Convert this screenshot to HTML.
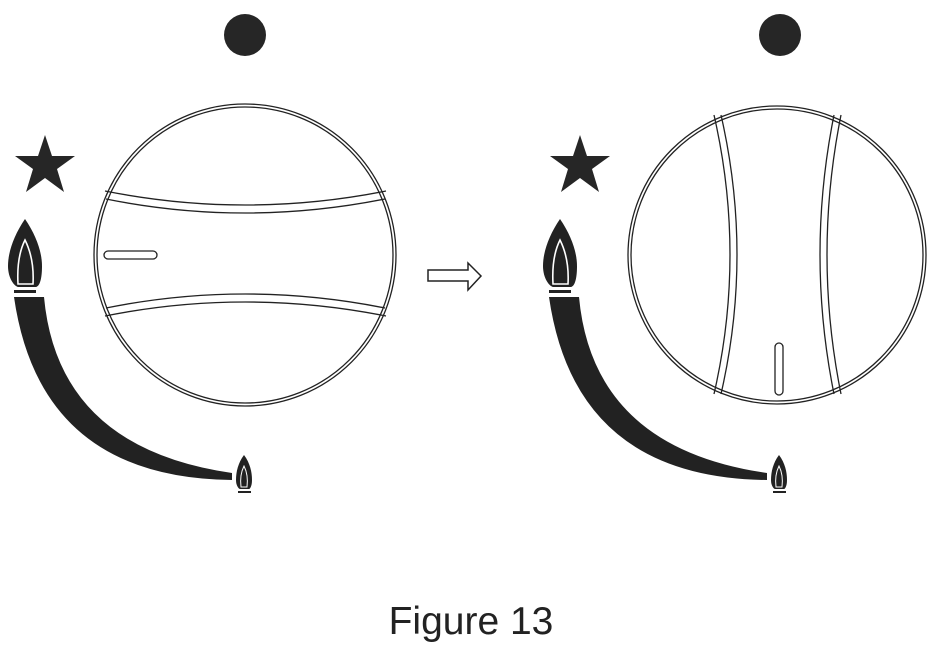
<!DOCTYPE html>
<html><head><meta charset="utf-8"><style>
html,body{margin:0;padding:0;background:#fff;}
svg{display:block;}
</style></head><body>
<svg width="938" height="645" viewBox="0 0 938 645" xmlns="http://www.w3.org/2000/svg">
<defs>
<g id="icons">
  <circle cx="245" cy="35" r="21" fill="#262626"/>
  <polygon fill="#262626" points="45,135 52,156 75,156 57,169 64,192 45,178 26,192 33,169 15,156 38,156"/>
  <path d="M25,219 C14,235 8,252 8,266 C8,278 14,286 18,287 L36,287 C40,286 42,278 42,266 C42,252 36,235 25,219 Z" fill="#222"/>
  <path d="M25,240 C19,252 17,266 18,284 L33,284 C34,266 31,252 25,240 Z" fill="none" stroke="#fff" stroke-width="1.6"/>
  <rect x="14" y="290" width="22" height="3" fill="#222"/>
  <path d="M14,297 L44,297 Q58,448 232,473 L232,480 Q40,478 14,297 Z" fill="#222"/>
  <path d="M244,455 C238,463 236,472 236,480 C236,486 239,489 240,489 L249,489 C250,489 252,486 252,480 C252,472 250,463 244,455 Z" fill="#222"/>
  <path d="M244,466 C241,472 240,479 241,487 L247,487 C248,479 247,472 244,466 Z" fill="none" stroke="#fff" stroke-width="1"/>
  <rect x="238" y="491" width="13" height="2" fill="#222"/>
</g>
</defs>
<use href="#icons"/>
<use href="#icons" transform="translate(535,0)"/>

<g fill="none" stroke="#222" stroke-width="1.3">
  <circle cx="245" cy="255" r="151"/>
  <circle cx="245" cy="255" r="148"/>
  <path d="M105,191 Q245,219 386,191"/>
  <path d="M106,199 Q245,227 385,199"/>
  <path d="M106,308 Q245,280 385,308"/>
  <path d="M105,316 Q245,288 386,316"/>
  <rect x="104" y="251" width="53" height="8" rx="4"/>
  <circle cx="777" cy="255" r="149"/>
  <circle cx="777" cy="255" r="146"/>
  <path d="M714,115 Q746,255 714,394"/>
  <path d="M721,115 Q753,255 721,394"/>
  <path d="M834,115 Q806,255 834,394"/>
  <path d="M841,115 Q813,255 841,394"/>
  <rect x="775" y="343" width="8" height="52" rx="4"/>
  <path d="M428,270 L468,270 L468,263 L481,276 L468,290 L468,281 L428,281 Z" stroke-width="1.5"/>
</g>

<text x="471" y="634" text-anchor="middle" font-family="Liberation Sans, sans-serif" font-size="39" fill="#222">Figure 13</text>
</svg>
</body></html>
